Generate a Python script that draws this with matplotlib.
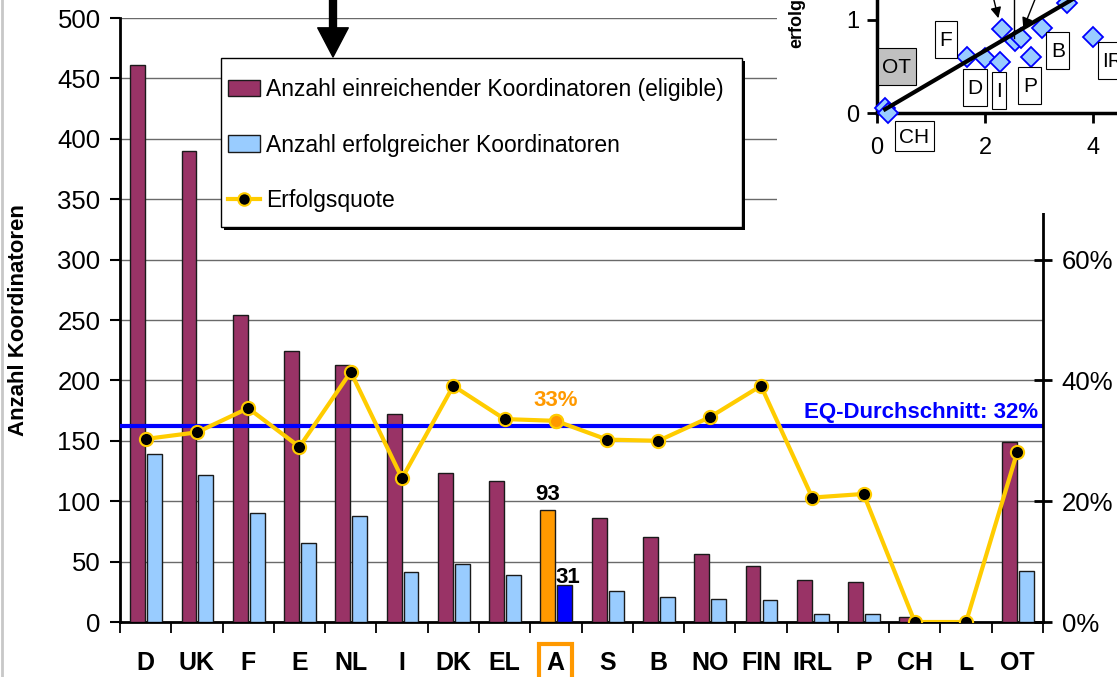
import numpy as np
import matplotlib
matplotlib.use("Agg")
from matplotlib import pyplot as plt
from matplotlib.patches import Patch, Rectangle
from matplotlib.lines import Line2D

plt.rcParams['font.family'] = ['Liberation Sans', 'DejaVu Sans']

# Hauptdiagramm
laender = ["D", "UK", "F", "E", "NL", "I", "DK", "EL", "A", "S", "B", "NO", "FIN", "IRL", "P", "CH", "L", "OT"]
eingereicht = [461, 390, 254, 224, 213, 172, 123, 117, 93, 86, 70, 56, 46, 35, 33, 4, 1, 149]
erfolgreich = [139, 122, 90, 65, 88, 41, 48, 39, 31, 26, 21, 19, 18, 7, 7, 0, 0, 42]
quote = [30.3, 31.4, 35.4, 29.0, 41.4, 23.8, 39.1, 33.6, 33.3, 30.2, 30.0, 33.9, 39.1, 20.6, 21.2, 0.0, 0.0, 28.2]
eq_schnitt = 32.4
hervor = "A"
legend_labels = ["Anzahl einreichender Koordinatoren (eligible)",
                 "Anzahl erfolgreicher Koordinatoren",
                 "Erfolgsquote"]

# kleines Streudiagramm oben rechts
inset_x = [0.15, 0.2, 1.67, 2.0, 2.28, 2.31, 2.56, 2.67, 2.85, 3.06, 3.52, 4.0]
inset_y = [0.05, 0.0, 0.60, 0.59, 0.55, 0.90, 0.77, 0.81, 0.60, 0.91, 1.18, 0.82]
inset_labels = ["F", "OT", "D", "I", "P", "B", "IRL", "CH"]
inset_label_x = [1.28, 0.37, 1.81, 2.26, 2.83, 3.35, 4.17, 0.69]
inset_label_y = [0.78, 0.49, 0.26, 0.23, 0.29, 0.66, 0.55, -0.26]
trend_x = [0.15, 3.7]
trend_y = [0.04, 1.25]

MAROON = '#993366'
HELLBLAU = '#99CCFF'
GOLD = '#FFCC00'
ORANGE = '#FF9900'
BLAU = '#0000FF'
EDGE = '#1a1a1a'

W, H = 1117, 677
fig = plt.figure(figsize=(W / 100, H / 100), dpi=100)
ax = fig.add_axes([120 / W, 1 - 622 / H, 923 / W, 604 / H])
ax2 = ax.twinx()

x = np.arange(len(laender))
bw = 0.29
c1 = [ORANGE if l == hervor else MAROON for l in laender]
c2 = [BLAU if l == hervor else HELLBLAU for l in laender]
ax.bar(x - 0.155, eingereicht, bw, color=c1, edgecolor=EDGE, lw=1, zorder=3)
ax.bar(x + 0.175, erfolgreich, bw, color=c2, edgecolor=EDGE, lw=1, zorder=3)

ax.set_xlim(-0.5, len(laender) - 0.5)
ax.set_ylim(0, 500)
ax.set_yticks(range(0, 501, 50))
ax.grid(axis='y', color='#6a6a6a', lw=1)
ax.set_axisbelow(True)
ax.tick_params(axis='y', direction='out', length=7, width=1.5, labelsize=18.5, pad=7)

ax.set_xticks(np.arange(len(laender) + 1) - 0.5)
ax.set_xticklabels([])
ax.set_xticks(x, minor=True)
ax.set_xticklabels(laender, minor=True, fontsize=18, fontweight='bold')
ax.tick_params(axis='x', which='major', direction='out', length=8, width=1.3)
ax.tick_params(axis='x', which='minor', length=0, pad=21)
for lab in ax.get_xticklabels(minor=True):
    if lab.get_text() == hervor:
        lab.set_bbox(dict(boxstyle='square,pad=0.3', fc='none', ec=ORANGE, lw=3))

for s in ['top', 'right']:
    ax.spines[s].set_visible(False)
for s in ['left', 'bottom']:
    ax.spines[s].set_linewidth(2)

i = laender.index(hervor)
ax.annotate(str(eingereicht[i]), (x[i] - 0.155, eingereicht[i]), xytext=(0, 7), textcoords='offset points',
            ha='center', va='baseline', fontsize=16, fontweight='bold')
ax.annotate(str(erfolgreich[i]), (x[i] + 0.175, erfolgreich[i]), xytext=(2, 1), textcoords='offset points',
            ha='center', va='baseline', fontsize=16, fontweight='bold')

# rechte Achse: Erfolgsquote
ax2.set_ylim(0, 100)
ax2.set_yticks([0, 20, 40, 60])
ax2.set_yticklabels(["0%", "20%", "40%", "60%"])
ax2.tick_params(axis='y', direction='inout', length=13, width=2, labelsize=18.5, pad=7)
for s in ['top', 'left', 'bottom']:
    ax2.spines[s].set_visible(False)
ax2.spines['right'].set_linewidth(2)
ax2.spines['right'].set_bounds(0, 68)

ax2.axhline(eq_schnitt, color=BLAU, lw=3, zorder=2)
ax2.plot(x, quote, color=GOLD, lw=3, marker='o', ms=9.5, mfc='black', mec=GOLD, mew=1.5, zorder=3)
ax2.plot(x[i], quote[i], 'o', ms=9.5, mfc=ORANGE, mec=GOLD, mew=1.5, zorder=4)
ax2.annotate(f"{quote[i]:.0f}%", (x[i], quote[i]), xytext=(0, 11), textcoords='offset points',
             ha='center', va='baseline', color=ORANGE, fontsize=16, fontweight='bold')
ax2.annotate(f"EQ-Durchschnitt: {eq_schnitt:.0f}%", (0.995, eq_schnitt), xycoords=('axes fraction', 'data'),
             xytext=(0, 6), textcoords='offset points', ha='right', va='baseline',
             color=BLAU, fontsize=16, fontweight='bold')

# Legende mit eigenem Rahmen und schwarzem Schatten
ax2.add_patch(Rectangle((224 / W, 1 - 230 / H), 521 / W, 169 / H, transform=fig.transFigure,
                        fc='black', ec='none', clip_on=False, zorder=4.7))
ax2.add_patch(Rectangle((221 / W, 1 - 227 / H), 521 / W, 169 / H, transform=fig.transFigure,
                        fc='white', ec='black', lw=1, clip_on=False, zorder=4.8))
handles = [Patch(fc=MAROON, ec=EDGE, lw=1), Patch(fc=HELLBLAU, ec=EDGE, lw=1),
           Line2D([], [], color=GOLD, lw=3, marker='o', ms=9, mfc='black', mec=GOLD, mew=1.5)]
leg = ax2.legend(handles, legend_labels, loc='upper left',
                 bbox_to_anchor=(228 / W, 1 - 78 / H), bbox_transform=fig.transFigure,
                 borderaxespad=0, borderpad=0, labelspacing=1.42, handlelength=1.4, handleheight=0.7,
                 handletextpad=0.25, fontsize=16.5, frameon=False)
leg.set_zorder(5)

fig.text(19 / W, 1 - 320 / H, "Anzahl Koordinatoren", rotation=90, ha='center', va='center',
         fontsize=16, fontweight='bold')

# dicker Pfeil oben
ax2.annotate('', xy=(333, H - 57), xycoords='figure pixels', xytext=(333, H + 10),
             textcoords='figure pixels', annotation_clip=False,
             arrowprops=dict(width=5, headwidth=22, headlength=21, facecolor='black', edgecolor='black', shrink=0))

# weisser Hintergrund fuer das eingesetzte Diagramm
fig.add_artist(Rectangle((777 / W, 1 - 213 / H), 340 / W, 213 / H, transform=fig.transFigure,
                         fc='white', ec='none', zorder=1))

ins = fig.add_axes([877 / W, 1 - 113 / H, 240 / W, 113 / H], zorder=2)
ins.patch.set_alpha(0)
ins.set_xlim(0, 240 / 54)
ins.set_ylim(0, 113 / 93)
ins.plot(inset_x, inset_y, 'D', ms=10.5, mfc=HELLBLAU, mec=BLAU, mew=1.3, ls='none', clip_on=False, zorder=3)
ins.plot(trend_x, trend_y, color='black', lw=3, zorder=4)
ins.annotate('', xy=(2.26, 0.99), xytext=(2.13, 1.3), annotation_clip=False,
             arrowprops=dict(arrowstyle='-|>', color='black', lw=1, mutation_scale=16))
ins.annotate('', xy=(2.69, 0.88), xytext=(2.98, 1.3), annotation_clip=False,
             arrowprops=dict(arrowstyle='-|>', color='black', lw=1, mutation_scale=16))
ins.plot([2.54, 2.54], [0.81, 1.3], color='black', lw=1, clip_on=False, zorder=5)
ins.set_xticks([0, 2, 4])
ins.set_yticks([0, 1])
ins.tick_params(direction='out', length=7, width=2, labelsize=17, pad=6)
ins.tick_params(axis='x', pad=10)
for s in ['top', 'right']:
    ins.spines[s].set_visible(False)
for s in ['left', 'bottom']:
    ins.spines[s].set_linewidth(2.5)
fig.text(797 / W, 1 - 48 / H, "erfolgreich", rotation=90, ha='center', va='bottom',
         fontsize=13, fontweight='bold', zorder=3)

label_texts = []
for lab, lx, ly in zip(inset_labels, inset_label_x, inset_label_y):
    t = ins.text(lx, ly, lab, ha='left' if lab == "IRL" else 'center', va='center', fontsize=15,
                 clip_on=False, zorder=6)
    label_texts.append((lab, t))

# hohe Kaestchen um die Laenderkuerzel (Groesse in Pixeln)
fig.canvas.draw()
renderer = fig.canvas.get_renderer()
for lab, t in label_texts:
    bb = t.get_window_extent(renderer)
    bh = 30 if lab == "CH" else 37
    bwid = bb.width + 9
    cx, cy = (bb.x0 + bb.x1) / 2, (bb.y0 + bb.y1) / 2 + 1
    (a0, b0), (a1, b1) = ins.transAxes.inverted().transform([(cx - bwid / 2, cy - bh / 2),
                                                             (cx + bwid / 2, cy + bh / 2)])
    ins.add_patch(Rectangle((a0, b0), a1 - a0, b1 - b0, transform=ins.transAxes,
                            fc='#C0C0C0' if lab == "OT" else 'white', ec='black', lw=0.8,
                            clip_on=False, zorder=5))

fig.add_artist(Line2D([2 / W, 2 / W], [0, 1], color='#C8C8C8', lw=2, transform=fig.transFigure))

fig.savefig('out.png', dpi=100)
